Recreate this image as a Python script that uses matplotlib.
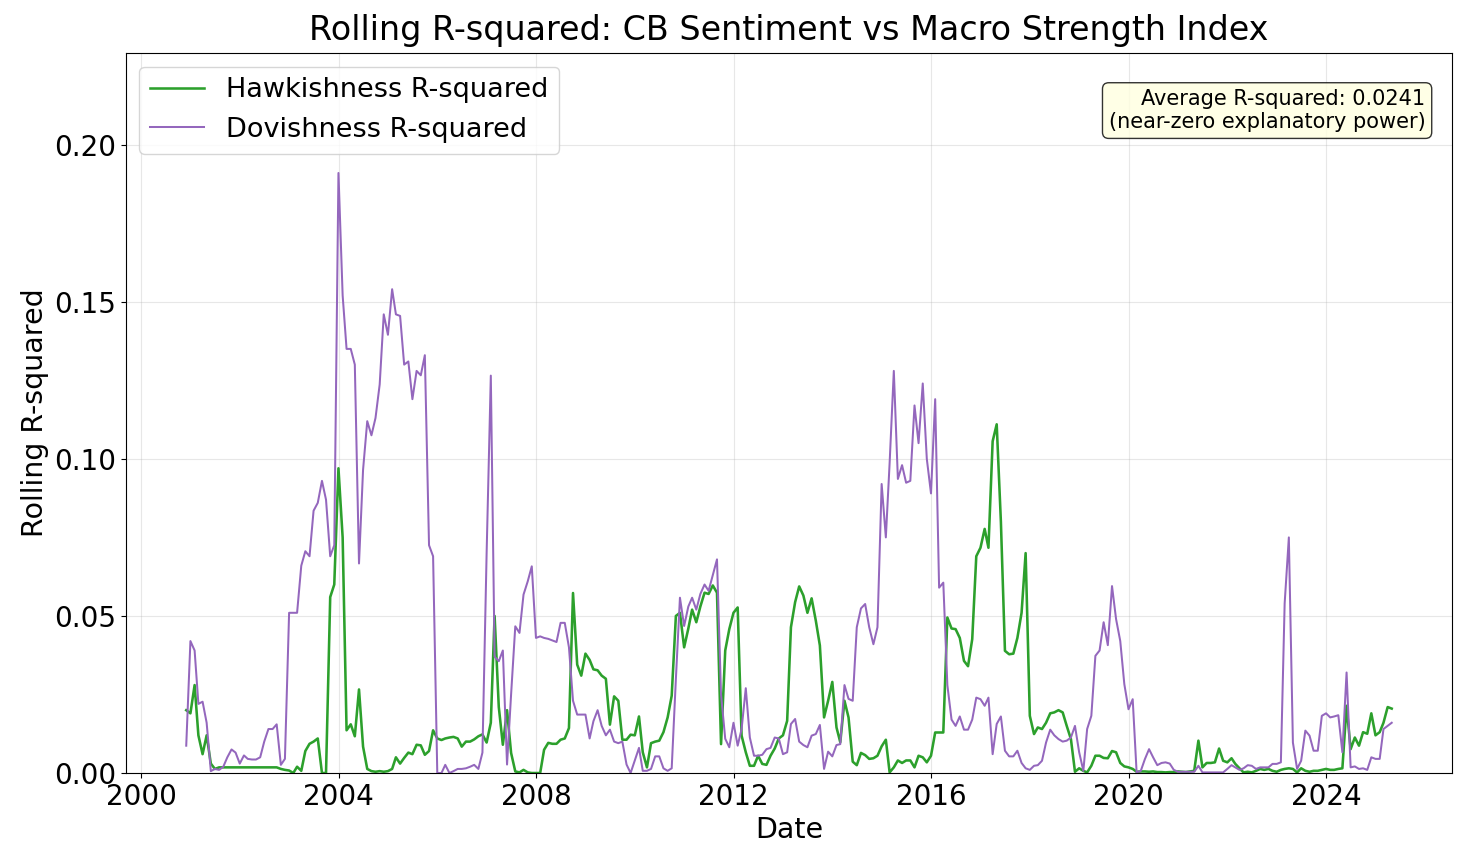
import matplotlib
matplotlib.use("Agg")
import matplotlib.pyplot as plt
import numpy as np
import pandas as pd

start_date = "2000-11-30"

hawkish_r2 = [
    0.020, 0.019, 0.028, 0.012, 0.006, 0.012, 0.003, 0.0013, 0.0018, 0.0018, 0.0018, 0.0018,
    0.0018, 0.0018, 0.0018, 0.0018, 0.0018, 0.0018, 0.0018, 0.0018, 0.0018, 0.0018, 0.0018, 0.0013,
    0.001, 0.0008, 0.0, 0.002, 0.0007, 0.007, 0.0093, 0.010, 0.011, 0.0, 0.0, 0.056,
    0.060, 0.097, 0.075, 0.0136, 0.0155, 0.0117, 0.0266, 0.0084, 0.0013, 0.0006, 0.0004, 0.0006,
    0.0004, 0.0006, 0.0013, 0.005, 0.003, 0.0048, 0.0065, 0.006, 0.009, 0.0088, 0.0058, 0.007,
    0.0136, 0.011, 0.0105, 0.011, 0.0113, 0.0115, 0.011, 0.0084, 0.010, 0.010, 0.0107, 0.0117,
    0.0123, 0.0097, 0.016, 0.050, 0.021, 0.009, 0.020, 0.0064, 0.0005, 0.0002, 0.001, 0.0002,
    0.0, 0.0, 0.0, 0.0074, 0.0096, 0.0093, 0.0093, 0.0106, 0.011, 0.0143, 0.0573, 0.0345,
    0.031, 0.038, 0.036, 0.033, 0.0327, 0.031, 0.030, 0.0154, 0.0244, 0.023, 0.0106, 0.0106,
    0.0122, 0.012, 0.018, 0.0066, 0.0018, 0.0095, 0.010, 0.0103, 0.013, 0.0177, 0.0246, 0.050,
    0.051, 0.040, 0.046, 0.052, 0.048, 0.053, 0.0574, 0.057, 0.0597, 0.0574, 0.0092, 0.039,
    0.0458, 0.051, 0.0527, 0.0119, 0.0066, 0.0023, 0.0023, 0.0055, 0.0029, 0.0026, 0.0055, 0.0078,
    0.011, 0.012, 0.0166, 0.0464, 0.0544, 0.0594, 0.0565, 0.051, 0.0556, 0.0485, 0.0406, 0.0177,
    0.023, 0.029, 0.0145, 0.0098, 0.023, 0.0177, 0.0036, 0.0025, 0.0064, 0.0057, 0.0045, 0.0047,
    0.0055, 0.0085, 0.0106, 0.0002, 0.0018, 0.004, 0.0032, 0.004, 0.004, 0.0018, 0.0055, 0.005,
    0.0034, 0.0055, 0.0129, 0.0129, 0.0129, 0.0495, 0.046, 0.0458, 0.043, 0.0357, 0.034, 0.0426,
    0.069, 0.0717, 0.0777, 0.0717, 0.1056, 0.111, 0.080, 0.0389, 0.0378, 0.038, 0.043, 0.051,
    0.070, 0.0182, 0.0124, 0.0145, 0.014, 0.016, 0.019, 0.0193, 0.020, 0.0193, 0.015, 0.0108,
    0.0004, 0.0015, 0.0007, 0.0002, 0.0023, 0.0055, 0.0055, 0.0048, 0.0047, 0.007, 0.0066, 0.0032,
    0.0021, 0.0018, 0.0013, 0.0004, 0.0005, 0.0005, 0.0004, 0.0005, 0.0003, 0.0003, 0.0002, 0.0003,
    0.0003, 0.0005, 0.0004, 0.0003, 0.0005, 0.0007, 0.0103, 0.0018, 0.0032, 0.0032, 0.0034, 0.0078,
    0.0039, 0.0034, 0.0047, 0.0029, 0.0015, 0.0002, 0.0004, 0.0002, 0.0007, 0.0013, 0.001, 0.0013,
    0.0007, 0.0004, 0.001, 0.0013, 0.0015, 0.0013, 0.0002, 0.0015, 0.0007, 0.0004, 0.0007, 0.0007,
    0.001, 0.0013, 0.001, 0.001, 0.0013, 0.0015, 0.0214, 0.0076, 0.0113, 0.0087, 0.013, 0.0125,
    0.019, 0.012, 0.013, 0.016, 0.021, 0.0205,
]

dovish_r2 = [
    0.0087, 0.042, 0.039, 0.022, 0.0227, 0.016, 0.0006, 0.0013, 0.001, 0.002, 0.005, 0.0075,
    0.0065, 0.003, 0.0056, 0.0045, 0.0043, 0.0043, 0.005, 0.010, 0.014, 0.014, 0.0155, 0.0026,
    0.0045, 0.051, 0.051, 0.051, 0.066, 0.0706, 0.069, 0.0835, 0.086, 0.093, 0.087, 0.069,
    0.0725, 0.191, 0.152, 0.135, 0.135, 0.130, 0.0667, 0.0965, 0.112, 0.1075, 0.113, 0.1237,
    0.146, 0.1395, 0.154, 0.146, 0.1455, 0.130, 0.131, 0.119, 0.128, 0.1266, 0.133, 0.0725,
    0.069, 0.0, 0.0, 0.0026, 0.0, 0.0006, 0.0013, 0.0013, 0.0015, 0.002, 0.0026, 0.0013,
    0.0065, 0.07, 0.1265, 0.037, 0.0356, 0.039, 0.0027, 0.025, 0.0467, 0.0446, 0.0568, 0.061,
    0.0658, 0.043, 0.0435, 0.043, 0.0427, 0.0422, 0.0417, 0.0478, 0.0478, 0.040, 0.023, 0.0186,
    0.0186, 0.0186, 0.011, 0.0165, 0.020, 0.015, 0.012, 0.0138, 0.010, 0.0095, 0.010, 0.0027,
    0.0, 0.004, 0.008, 0.0007, 0.0007, 0.0013, 0.0053, 0.0053, 0.0015, 0.0007, 0.0015, 0.03,
    0.0558, 0.0468, 0.053, 0.0558, 0.052, 0.057, 0.060, 0.058, 0.063, 0.068, 0.025, 0.0109,
    0.0082, 0.016, 0.0087, 0.014, 0.027, 0.0113, 0.0055, 0.0055, 0.0058, 0.0076, 0.008, 0.0113,
    0.011, 0.006, 0.0066, 0.0156, 0.0172, 0.010, 0.0089, 0.0082, 0.0119, 0.0124, 0.0153, 0.0013,
    0.0068, 0.0053, 0.0089, 0.0092, 0.028, 0.0236, 0.023, 0.0464, 0.0524, 0.0538, 0.0464, 0.041,
    0.0464, 0.092, 0.075, 0.0987, 0.128, 0.0936, 0.098, 0.0924, 0.093, 0.117, 0.105, 0.124,
    0.100, 0.089, 0.119, 0.059, 0.0606, 0.028, 0.017, 0.015, 0.018, 0.0138, 0.0138, 0.017,
    0.024, 0.0235, 0.0214, 0.024, 0.006, 0.0156, 0.018, 0.0071, 0.0053, 0.0053, 0.0071, 0.0032,
    0.0015, 0.001, 0.0023, 0.0025, 0.0039, 0.0097, 0.0138, 0.012, 0.0108, 0.010, 0.0103, 0.0113,
    0.015, 0.0066, 0.0007, 0.014, 0.0182, 0.0373, 0.039, 0.048, 0.0407, 0.0595, 0.049, 0.042,
    0.0283, 0.0203, 0.0235, 0.0002, 0.0007, 0.0044, 0.0076, 0.005, 0.0025, 0.0032, 0.0034, 0.003,
    0.001, 0.0004, 0.0004, 0.0004, 0.0004, 0.0004, 0.0023, 0.0002, 0.0002, 0.0002, 0.0002, 0.0002,
    0.0002, 0.0013, 0.0025, 0.0018, 0.001, 0.0015, 0.0025, 0.0023, 0.0013, 0.0018, 0.0018, 0.0018,
    0.0029, 0.0029, 0.0034, 0.054, 0.075, 0.0097, 0.0013, 0.0039, 0.0135, 0.0119, 0.0071, 0.0071,
    0.0182, 0.019, 0.0177, 0.018, 0.0184, 0.0066, 0.032, 0.0018, 0.0021, 0.0013, 0.0015, 0.001,
    0.005, 0.0045, 0.0045, 0.014, 0.015, 0.016,
]

title = "Rolling R-squared: CB Sentiment vs Macro Strength Index"
avg_text = "Average R-squared: 0.0241\n(near-zero explanatory power)"

dates = pd.date_range(start_date, periods=len(hawkish_r2), freq="ME")

fig = plt.figure(figsize=(14.68, 8.67), dpi=100)
ax = fig.add_axes([0.0858, 0.1084, 0.9033, 0.8305])

ax.plot(dates, hawkish_r2, color="#2ca02c", linewidth=1.85, label="Hawkishness R-squared")
ax.plot(dates, dovish_r2, color="#9467bd", linewidth=1.45, label="Dovishness R-squared")

ax.set_ylim(0, max(max(hawkish_r2), max(dovish_r2)) * 1.2)
ax.set_title(title, fontsize=24, pad=9)
ax.set_xlabel("Date", fontsize=20.5)
ax.set_ylabel("Rolling R-squared", fontsize=20.5)
ax.tick_params(axis="both", labelsize=20)
ax.grid(True, alpha=0.3)
ax.legend(loc="upper left", fontsize=19.5)

ax.text(0.98, 0.95, avg_text, transform=ax.transAxes, ha="right", va="top",
        fontsize=15,
        bbox=dict(boxstyle="round", facecolor="lightyellow", alpha=0.8))

fig.savefig("out.png", dpi=100)
